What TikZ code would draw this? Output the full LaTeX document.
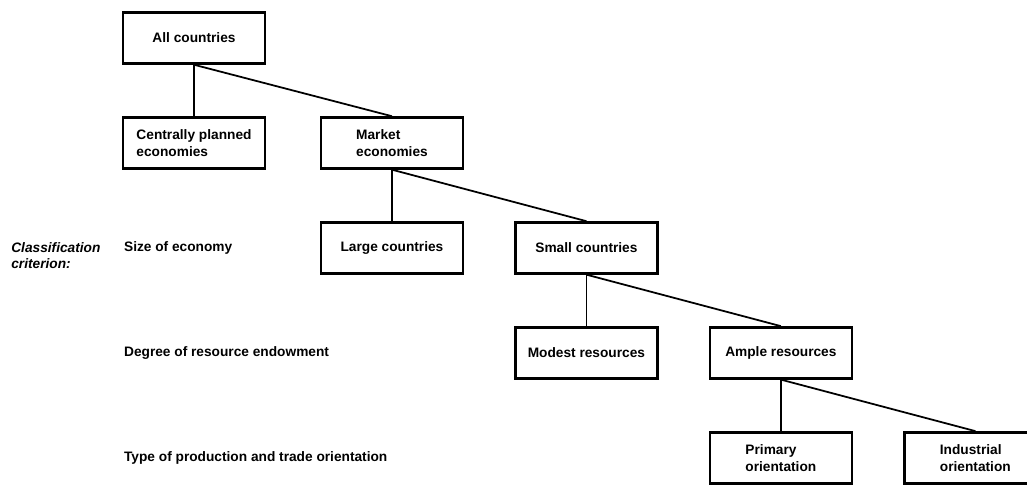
\documentclass[tikz,border=0pt]{standalone}
\usepackage{fontspec}
\setmainfont{Liberation Sans}
\usetikzlibrary{positioning}

\begin{document}
\begin{tikzpicture}[
    node distance=1.03cm and 1.0cm,
    font=\bfseries\fontsize{7.8}{9.4}\selectfont,
    group/.style={
        rectangle,
        minimum width=2.84cm,
        minimum height=1.02cm,
        align=left,
        draw=black,
        line width=1.4pt
    },
    branch/.style={line width=1pt},
    criterion/.style={anchor=west, inner sep=0pt, align=left}
]
    \clip (0,0) rectangle (20.54,-9.70);

    \node (all) [group] at (3.88,-0.76) {All countries};

    \node (central) [group, below=of all] {Centrally planned\\economies};
    \node (market) [group, right=1.07cm of central] {Market\\economies};

    \node (large) [group, below=of market] {Large countries};
    \node (small) [group, right=of large] {Small countries};

    \node (modest) [group, below=of small] {Modest resources};
    \node (ample) [group, right=of modest] {Ample resources};

    \node (primary) [group, below=of ample] {Primary\\orientation};
    \node (industrial) [group, right=of primary] {Industrial\\orientation};

    % classification criteria on the left
    \node (crit) [criterion, anchor=north west, font=\bfseries\itshape\fontsize{7.8}{9.4}\selectfont] at (0.22,-4.84) {Classification\\criterion:};
    \node (size) [criterion, xshift=0.04cm] at (central.west |- large.west) {Size of economy};
    \node (degree) [criterion, xshift=0.04cm] at (central.west |- modest.west) {Degree of resource endowment};
    \node (type) [criterion, xshift=0.04cm] at (central.west |- primary.west) {Type of production and trade orientation};

    \draw [branch] (all.south) -- (central.north);
    \draw [branch] (all.south) -- (market.north);
    \draw [branch] (market.south) -- (large.north);
    \draw [branch] (market.south) -- (small.north);
    \draw [branch] (small.south) -- (modest.north);
    \draw [branch] (small.south) -- (ample.north);
    \draw [branch] (ample.south) -- (primary.north);
    \draw [branch] (ample.south) -- (industrial.north);

\end{tikzpicture}
\end{document}
